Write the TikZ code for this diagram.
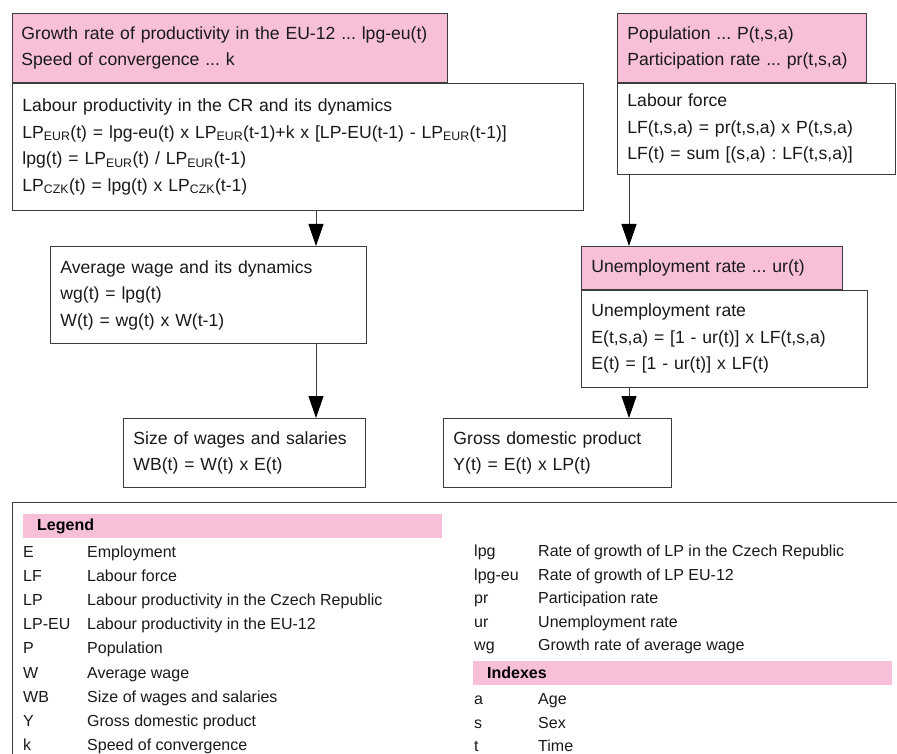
\documentclass[tikz,border=0pt]{standalone}
\usepackage{fontspec}
\setmainfont{Liberation Sans}
\usetikzlibrary{arrows.meta,positioning}
\frenchspacing
\definecolor{inpink}{RGB}{247,192,216}
\definecolor{rule}{RGB}{60,60,60}
\definecolor{ink}{RGB}{25,25,25}
\tikzstyle{eqbox}=[
  draw=rule,line width=0.9pt,fill=white,anchor=north west,align=left,
  inner xsep=10pt,inner ysep=0pt,text=ink,font=\fontsize{17.6}{26.5}\selectfont
]
\tikzstyle{inbox}=[
  eqbox,fill=inpink
]
\tikzstyle{flow}=[
  draw=rule,line width=0.9pt,-{Triangle[length=22pt,width=15pt,color=black]}
]
\tikzstyle{legbar}=[
  fill=inpink,anchor=north west,inner xsep=14pt,inner ysep=0pt,minimum height=24pt,
  text=black,font=\fontsize{16}{18}\selectfont\bfseries
]
\tikzstyle{legtext}=[
  anchor=west,inner sep=0pt,text height=12pt,text depth=3pt,text=ink,
  font=\fontsize{16}{18}\selectfont
]
\begin{document}
\begin{tikzpicture}[x=1pt,y=-1pt]
  \useasboundingbox (0,0) rectangle (897,754);
  % left column
  \node (growth) at (12,13) [inbox,text width=417pt,inner xsep=9pt,minimum height=69pt]
    {Growth rate of productivity in the EU-12 ... lpg-eu(t)\\
     Speed of convergence ... k};
  \node (lprod) at (growth.south west) [eqbox,text width=551pt,minimum height=127pt]
    {Labour productivity in the CR and its dynamics\\
     LP\textsubscript{EUR}(t) = lpg-eu(t) x LP\textsubscript{EUR}(t-1)+k x [LP-EU(t-1) - LP\textsubscript{EUR}(t-1)]\\
     lpg(t) = LP\textsubscript{EUR}(t) / LP\textsubscript{EUR}(t-1)\\
     LP\textsubscript{CZK}(t) = lpg(t) x LP\textsubscript{CZK}(t-1)};
  \node (wage) at (50,246) [eqbox,text width=296pt,minimum height=97pt]
    {Average wage and its dynamics\\
     wg(t) = lpg(t)\\
     W(t) = wg(t) x W(t-1)};
  \node (wbill) at (123,418) [eqbox,text width=222pt,minimum height=69pt]
    {Size of wages and salaries\\
     WB(t) = W(t) x E(t)};
  % right column
  \node (popul) at (617,13) [inbox,text width=229pt,minimum height=69pt]
    {Population ... P(t,s,a)\\
     Participation rate ... pr(t,s,a)};
  \node (lforce) at (popul.south west) [eqbox,text width=258pt,minimum height=91pt]
    {Labour force\\
     LF(t,s,a) = pr(t,s,a) x P(t,s,a)\\
     LF(t) = sum [(s,a) : LF(t,s,a)]};
  \node (urate) at (581,246) [inbox,text width=241pt,minimum height=43pt]
    {Unemployment rate ... ur(t)};
  \node (employ) at (urate.south west) [eqbox,text width=266pt,minimum height=97pt]
    {Unemployment rate\\
     E(t,s,a) = [1 - ur(t)] x LF(t,s,a)\\
     E(t) = [1 - ur(t)] x LF(t)};
  \node (gdp) at (443,418) [eqbox,text width=208pt,minimum height=69pt]
    {Gross domestic product\\
     Y(t) = E(t) x LP(t)};
  % arrows
  \coordinate (wagecol) at (316,0);
  \coordinate (labcol) at (629,0);
  \draw [flow] (lprod.south -| wagecol) -- (wage.north -| wagecol);
  \draw [flow] (wage.south -| wagecol) -- (wbill.north -| wagecol);
  \draw [flow] (lforce.south -| labcol) -- (urate.north -| labcol);
  \draw [flow] (employ.south -| labcol) -- (gdp.north -| labcol);
  % legend
  \draw [rule,line width=0.9pt] (897,502) -- (12,502) -- (12,754);
  \node (leghead) at (23,514) [legbar,text width=391pt] {Legend};
  \foreach \ab/\txt [count=\i] in {E/Employment,LF/Labour force,
      LP/Labour productivity in the Czech Republic,LP-EU/Labour productivity in the EU-12,
      P/Population,W/Average wage,WB/Size of wages and salaries,
      Y/Gross domestic product,k/Speed of convergence} {
    \node (labL\i) at (23,{553+24.1*(\i-1)}) [legtext] {\ab};
    \node (txtL\i) at (87,{553+24.1*(\i-1)}) [legtext] {\txt};
  }
  \foreach \ab/\txt [count=\i] in {lpg/Rate of growth of LP in the Czech Republic,
      lpg-eu/Rate of growth of LP EU-12,pr/Participation rate,
      ur/Unemployment rate,wg/Growth rate of average wage} {
    \node (labR\i) at (474,{552+23.5*(\i-1)}) [legtext] {\ab};
    \node (txtR\i) at (538,{552+23.5*(\i-1)}) [legtext] {\txt};
  }
  \node (idxhead) at (473,661) [legbar,text width=391pt] {Indexes};
  \foreach \ab/\txt [count=\i] in {a/Age,s/Sex,t/Time} {
    \node (labI\i) at (474,{700+23.5*(\i-1)}) [legtext] {\ab};
    \node (txtI\i) at (538,{700+23.5*(\i-1)}) [legtext] {\txt};
  }
\end{tikzpicture}
\end{document}
